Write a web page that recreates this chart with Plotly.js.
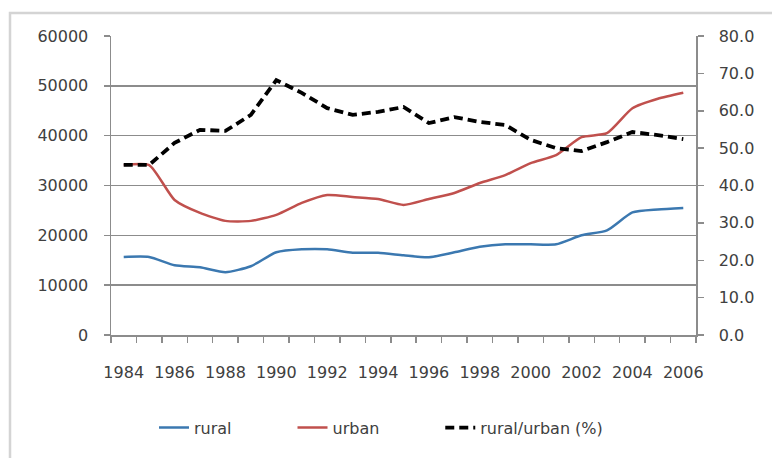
<!DOCTYPE html>
<html>
<head>
<meta charset="utf-8">
<script src="https://cdn.plot.ly/plotly-3.0.1.min.js"></script>
<style>html,body{margin:0;padding:0;background:#fff;}#chart{width:772px;height:458px;}</style>
</head>
<body>
<div id="chart"></div>
<script>
const years = [1984,1985,1986,1987,1988,1989,1990,1991,1992,1993,1994,1995,1996,1997,1998,1999,2000,2001,2002,2003,2004,2005,2006];
const rural = [15650,15650,14000,13600,12600,13800,16600,17200,17200,16500,16500,16000,15600,16600,17700,18200,18200,18200,20000,21000,24600,25200,25500];
const urban = [34100,34100,27100,24500,22900,22900,24100,26500,28100,27700,27300,26100,27300,28500,30500,32100,34500,36100,39700,40500,45500,47400,48600];
const ratio = [45.5,45.5,51.4,54.9,54.6,58.9,68.2,64.8,60.7,58.9,59.7,61.0,56.7,58.3,57.0,56.2,52.2,50.0,49.2,51.6,54.3,53.5,52.4];
const yearLabels = [1984,1986,1988,1990,1992,1994,1996,1998,2000,2002,2004,2006];
const leftTicks = [0,10000,20000,30000,40000,50000,60000];
const rightTicks = [0,10,20,30,40,50,60,70,80];

const font = {family: 'DejaVu Sans, sans-serif', size: 16, color: '#404040'};
const pad = n => '\u00a0'.repeat(n);

const traces = [
  {x: years, y: rural, name: 'rural' + pad(11), type: 'scatter', mode: 'lines',
   line: {color: '#3b78b0', width: 2.5, shape: 'spline', smoothing: 0.6}},
  {x: years, y: urban, name: 'urban' + pad(11), type: 'scatter', mode: 'lines',
   line: {color: '#c0504d', width: 2.5, shape: 'spline', smoothing: 0.6}},
  {x: years, y: ratio, name: 'rural/urban (%)', type: 'scatter', mode: 'lines', yaxis: 'y2',
   line: {color: '#000000', width: 3.8, dash: '9px,5px'}}
];

const layout = {
  width: 772, height: 458,
  margin: {l: 111, r: 76, t: 36, b: 123},
  paper_bgcolor: '#ffffff', plot_bgcolor: '#ffffff',
  font: font,
  showlegend: true,
  legend: {orientation: 'h', x: (381 - 111) / 585, xanchor: 'center', y: -0.31, yanchor: 'middle',
           font: font},
  xaxis: {
    range: [1983.5, 2006.5], tickmode: 'array', tickvals: yearLabels,
    ticktext: yearLabels.map(String), ticks: '', showgrid: false, zeroline: false,
    showline: true, linecolor: '#8c8c8c', linewidth: 1.5, ticklabelstandoff: 22,
    minor: {tickmode: 'linear', tick0: 1983.5, dtick: 1, ticks: 'outside', ticklen: 6,
            tickcolor: '#8c8c8c', tickwidth: 1.5, showgrid: false},
    tickfont: font
  },
  yaxis: {
    range: [0, 60000], tickmode: 'array', tickvals: leftTicks, ticktext: leftTicks.map(String),
    showgrid: true, gridcolor: '#8c8c8c', gridwidth: 1.5, zeroline: false,
    showline: true, linecolor: '#8c8c8c', linewidth: 1.5,
    ticks: 'outside', ticklen: 6, tickcolor: '#8c8c8c', tickwidth: 1.5,
    ticklabelstandoff: 12, tickfont: font
  },
  yaxis2: {
    range: [0, 80], overlaying: 'y', side: 'right', tickmode: 'array', tickvals: rightTicks,
    ticktext: rightTicks.map(v => v.toFixed(1)), showgrid: false, zeroline: false,
    showline: true, linecolor: '#8c8c8c', linewidth: 1.5,
    ticks: 'outside', ticklen: 6, tickcolor: '#8c8c8c', tickwidth: 1.5,
    ticklabelstandoff: 12, tickfont: font
  },
  shapes: [
    {type: 'rect', xref: 'paper', yref: 'paper',
     x0: (10 - 111) / 585, x1: (800 - 111) / 585,
     y0: (335 - 500) / 299, y1: (335 - 13) / 299,
     line: {color: '#d4d4d4', width: 2.5}, fillcolor: 'rgba(0,0,0,0)', layer: 'below'}
  ]
};

Plotly.newPlot('chart', traces, layout, {displayModeBar: false, staticPlot: true});
</script>
</body>
</html>
